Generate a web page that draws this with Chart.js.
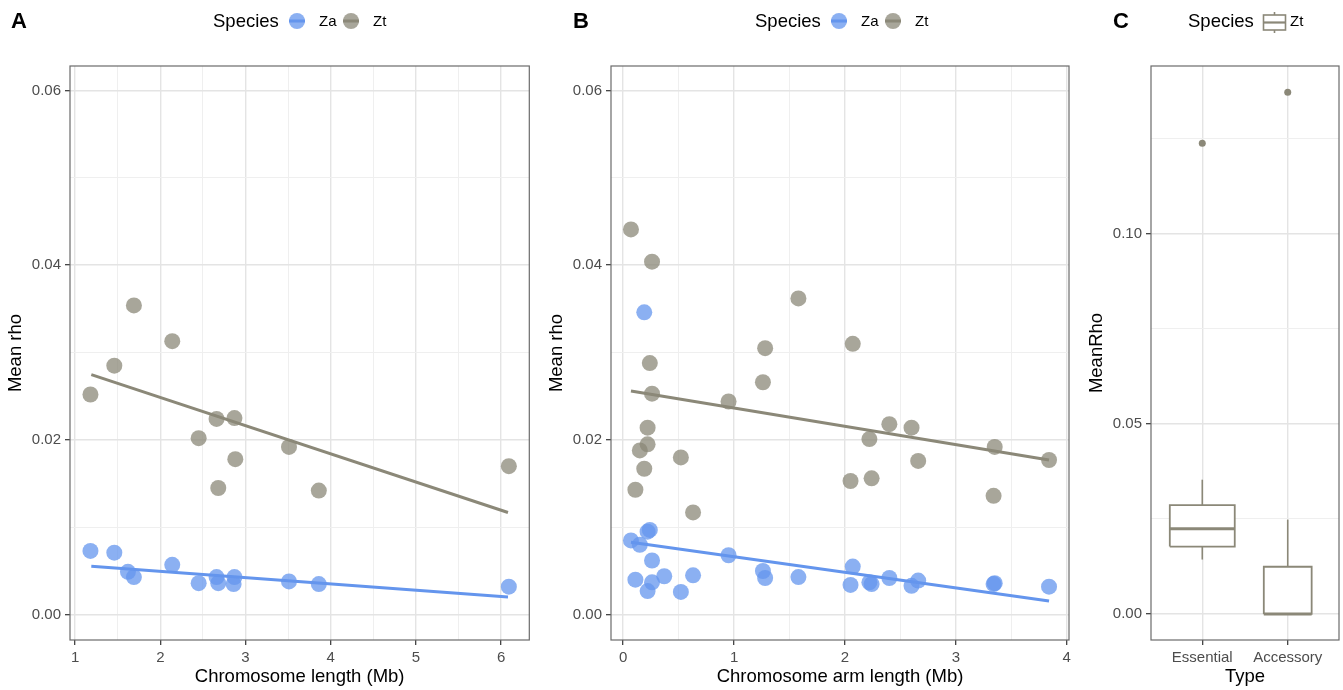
<!DOCTYPE html>
<html>
<head>
<meta charset="utf-8">
<script src="https://cdn.jsdelivr.net/npm/chart.js@4.4.1/dist/chart.umd.min.js"></script>
<style>
body { margin: 0; background: #fff; font-family: "Liberation Sans", Arial, sans-serif; }
#figure { position: relative; width: 1343px; height: 690px; overflow: hidden; }
canvas { position: absolute; top: 0; }
.letter { position: absolute; top: 9px; font-size: 22px; font-weight: bold; line-height: 24px; }
.legend { position: absolute; top: 9px; height: 24px; line-height: 24px; color: #000; }
.legend span, .legend svg { position: absolute; top: 0; }
.legend .head { font-size: 18.5px; }
.legend .item { font-size: 15px; }
</style>
</head>
<body>
<div id="figure">
  <canvas id="chartA" width="545" height="690" style="left:0px"></canvas>
  <canvas id="chartB" width="540" height="690" style="left:541px"></canvas>
  <canvas id="chartC" width="262" height="690" style="left:1081px"></canvas>

  <div class="letter" style="left:11px">A</div>
  <div class="letter" style="left:573px">B</div>
  <div class="letter" style="left:1113px">C</div>

  <div class="legend" style="left:213px">
    <span class="head" style="left:0">Species</span>
    <svg style="left:75px" width="18" height="24"><circle cx="9" cy="12" r="8" fill="#6495ED" fill-opacity="0.75"/><line x1="1" y1="12" x2="17" y2="12" stroke="#6495ED" stroke-width="3"/></svg>
    <span class="item" style="left:106px">Za</span>
    <svg style="left:129px" width="18" height="24"><circle cx="9" cy="12" r="8" fill="#8B8878" fill-opacity="0.75"/><line x1="1" y1="12" x2="17" y2="12" stroke="#8B8878" stroke-width="3"/></svg>
    <span class="item" style="left:160px">Zt</span>
  </div>
  <div class="legend" style="left:755px">
    <span class="head" style="left:0">Species</span>
    <svg style="left:75px" width="18" height="24"><circle cx="9" cy="12" r="8" fill="#6495ED" fill-opacity="0.75"/><line x1="1" y1="12" x2="17" y2="12" stroke="#6495ED" stroke-width="3"/></svg>
    <span class="item" style="left:106px">Za</span>
    <svg style="left:129px" width="18" height="24"><circle cx="9" cy="12" r="8" fill="#8B8878" fill-opacity="0.75"/><line x1="1" y1="12" x2="17" y2="12" stroke="#8B8878" stroke-width="3"/></svg>
    <span class="item" style="left:160px">Zt</span>
  </div>
  <div class="legend" style="left:1188px">
    <span class="head" style="left:0">Species</span>
    <svg style="left:74px" width="25" height="24" fill="none" stroke="#8B8878" stroke-width="1.6">
      <line x1="12.5" y1="3" x2="12.5" y2="6"/><line x1="12.5" y1="21" x2="12.5" y2="24"/>
      <rect x="1.5" y="6" width="22" height="15" fill="#fff"/><line x1="1.5" y1="13.5" x2="23.5" y2="13.5" stroke-width="2.2"/>
    </svg>
    <span class="item" style="left:102px">Zt</span>
  </div>
</div>

<script>
const ZA_COLOR = '#6495ED';
const ZT_COLOR = '#8B8878';
const FONT = '"Liberation Sans", Arial, sans-serif';

// A: mean rho per chromosome
const chromLenZa = [1.18, 1.46, 1.62, 1.69, 2.14, 2.45, 2.66, 2.68, 2.87, 2.86, 3.51, 3.86, 6.09];
const rhoChromZa = [0.0073, 0.0071, 0.0049, 0.0043, 0.0057, 0.0036, 0.0043, 0.0036, 0.0043, 0.0035, 0.0038, 0.0035, 0.0032];
const chromLenZt = [1.18, 1.46, 1.69, 2.14, 2.45, 2.66, 2.68, 2.87, 2.88, 3.51, 3.86, 6.09];
const rhoChromZt = [0.0252, 0.0285, 0.0354, 0.0313, 0.0202, 0.0224, 0.0145, 0.0225, 0.0178, 0.0192, 0.0142, 0.0170];
const fitLenA = [1.19, 6.08];
const fitZaA = [0.00555, 0.00202];
const fitZtA = [0.02748, 0.01169];

// B: mean rho per chromosome arm
const armLenZa = [0.19, 0.24, 0.22, 0.07, 0.15, 0.26, 0.11, 0.26, 0.22, 0.37, 0.52, 0.63, 0.95, 1.26, 1.28, 1.58, 2.07, 2.05, 2.22, 2.24, 2.40, 2.60, 2.66, 3.35, 3.34, 3.84];
const rhoArmZa = [0.0346, 0.0097, 0.0095, 0.0085, 0.0080, 0.0062, 0.0040, 0.0037, 0.0027, 0.0044, 0.0026, 0.0045, 0.0068, 0.0050, 0.0042, 0.0043, 0.0055, 0.0034, 0.0037, 0.0035, 0.0042, 0.0033, 0.0039, 0.0036, 0.0035, 0.0032];
const armLenZt = [0.07, 0.26, 0.24, 0.26, 0.22, 0.22, 0.15, 0.19, 0.11, 0.52, 0.63, 0.95, 1.26, 1.28, 1.58, 2.07, 2.05, 2.22, 2.24, 2.40, 2.60, 2.66, 3.35, 3.34, 3.84];
const rhoArmZt = [0.0441, 0.0404, 0.0288, 0.0253, 0.0214, 0.0195, 0.0188, 0.0167, 0.0143, 0.0180, 0.0117, 0.0244, 0.0266, 0.0305, 0.0362, 0.0310, 0.0153, 0.0201, 0.0156, 0.0218, 0.0214, 0.0176, 0.0192, 0.0136, 0.0177];
const fitArmB = [0.07, 3.84];
const fitZaB = [0.0083, 0.00157];
const fitZtB = [0.0256, 0.0177];

// C: Zt essential vs accessory chromosomes
const boxTypes = ['Essential', 'Accessory'];
const whiskerLow = [0.0143, 0.0];
const boxQ1 = [0.0177, 0.0];
const boxMedian = [0.0224, 0.0];
const boxQ3 = [0.0286, 0.0124];
const whiskerHigh = [0.0353, 0.0248];
const outlierRho = [0.1238, 0.1372];

// tick values
const ticksLenA = [1, 2, 3, 4, 5, 6];
const minorLenA = [1.5, 2.5, 3.5, 4.5, 5.5];
const ticksArmB = [0, 1, 2, 3, 4];
const minorArmB = [0.5, 1.5, 2.5, 3.5];
const ticksRho = [0, 0.02, 0.04, 0.06];
const minorRho = [0.01, 0.03, 0.05];
const ticksRhoC = [0, 0.05, 0.10];
const minorRhoC = [0.025, 0.075, 0.125];
const ticksTypeC = [1, 2];


function toPoints(xs, ys) {
    return xs.map((x, i) => ({ x: x, y: ys[i] }));
}

function isMajor(v, major) {
    return major.some(m => Math.abs(m - v) < 1e-9);
}

function gridAxis(min, max, major, minor, title, format, isX) {
    return {
        type: 'linear',
        min: min,
        max: max,
        afterBuildTicks: axis => {
            axis.ticks = major.concat(minor).sort((a, b) => a - b).map(v => ({ value: v }));
        },
        afterFit: axis => {
            if (isX) axis.height = 50; else axis.width = 70;
        },
        ticks: {
            autoSkip: false,
            maxRotation: 0,
            padding: 4,
            color: '#4d4d4d',
            font: { family: FONT, size: 15 },
            callback: v => isMajor(v, major) ? format(v) : ''
        },
        grid: {
            color: c => (c.tick && isMajor(c.tick.value, major)) ? '#e4e4e4' : '#efefef',
            lineWidth: c => (c.tick && isMajor(c.tick.value, major)) ? 1.4 : 1,
            tickLength: 5,
            tickWidth: 1.2,
            tickColor: c => (c.tick && isMajor(c.tick.value, major)) ? '#333' : 'rgba(0,0,0,0)'
        },
        border: { display: false },
        title: {
            display: true,
            text: title,
            color: '#000',
            font: { family: FONT, size: 18.5 },
            padding: isX ? { top: 2, bottom: 2 } : { top: 5, bottom: 2 }
        }
    };
}

const panelBorder = {
    id: 'panelBorder',
    afterDatasetsDraw(chart) {
        const { ctx, chartArea: a } = chart;
        ctx.save();
        ctx.strokeStyle = '#6b6b6b';
        ctx.lineWidth = 1.2;
        ctx.strokeRect(a.left, a.top, a.right - a.left, a.bottom - a.top);
        ctx.restore();
    }
};

function pointSet(data, color, alpha, radius, order) {
    return {
        data: data,
        backgroundColor: Chart.helpers.color(color).alpha(alpha).rgbString(),
        borderWidth: 0,
        pointRadius: radius,
        order: order
    };
}

function lineSet(data, color, width, order) {
    return {
        data: data,
        showLine: true,
        borderColor: color,
        borderWidth: width,
        pointRadius: 0,
        tension: 0,
        fill: false,
        order: order
    };
}

function baseOptions(scales, rightPad) {
    return {
        responsive: false,
        animation: false,
        events: [],
        layout: { padding: { top: 66, right: rightPad, left: 0, bottom: 0 } },
        plugins: { legend: { display: false }, tooltip: { enabled: false } },
        scales: scales
    };
}

const fmt2 = v => v.toFixed(2);
const fmtInt = v => String(v);


new Chart(document.getElementById('chartA'), {
    type: 'scatter',
    data: {
        datasets: [
            lineSet(toPoints(fitLenA, fitZaA), ZA_COLOR, 3, 0),
            lineSet(toPoints(fitLenA, fitZtA), ZT_COLOR, 3, 0),
            pointSet(toPoints(chromLenZa, rhoChromZa), ZA_COLOR, 0.75, 8, 1),
            pointSet(toPoints(chromLenZt, rhoChromZt), ZT_COLOR, 0.75, 8, 1)
        ]
    },
    options: baseOptions({
        x: gridAxis(0.94, 6.33, ticksLenA, minorLenA, 'Chromosome length (Mb)', fmtInt, true),
        y: gridAxis(-0.0029, 0.0628, ticksRho, minorRho, 'Mean rho', fmt2, false)
    }, 15.7),
    plugins: [panelBorder]
});


new Chart(document.getElementById('chartB'), {
    type: 'scatter',
    data: {
        datasets: [
            lineSet(toPoints(fitArmB, fitZaB), ZA_COLOR, 3, 0),
            lineSet(toPoints(fitArmB, fitZtB), ZT_COLOR, 3, 0),
            pointSet(toPoints(armLenZa, rhoArmZa), ZA_COLOR, 0.75, 8, 1),
            pointSet(toPoints(armLenZt, rhoArmZt), ZT_COLOR, 0.75, 8, 1)
        ]
    },
    options: baseOptions({
        x: gridAxis(-0.11, 4.02, ticksArmB, minorArmB, 'Chromosome arm length (Mb)', fmtInt, true),
        y: gridAxis(-0.0029, 0.0628, ticksRho, minorRho, 'Mean rho', fmt2, false)
    }, 12),
    plugins: [panelBorder]
});


// boxes: whiskers, white box, median line, outliers
const boxHalf = [0.38, 0.28];
const boxSets = [];
boxTypes.forEach((type, i) => {
    const c = ticksTypeC[i];
    const h = boxHalf[i];
    boxSets.push(lineSet([{ x: c, y: boxQ3[i] }, { x: c, y: whiskerHigh[i] }], ZT_COLOR, 1.6, 3));
    boxSets.push(lineSet([{ x: c, y: whiskerLow[i] }, { x: c, y: boxQ1[i] }], ZT_COLOR, 1.6, 3));
    const box = lineSet([
        { x: c - h, y: boxQ1[i] }, { x: c + h, y: boxQ1[i] },
        { x: c + h, y: boxQ3[i] }, { x: c - h, y: boxQ3[i] },
        { x: c - h, y: boxQ1[i] }
    ], ZT_COLOR, 1.8, 2);
    box.fill = 'shape';
    box.backgroundColor = '#fff';
    boxSets.push(box);
    boxSets.push(lineSet([{ x: c - h, y: boxMedian[i] }, { x: c + h, y: boxMedian[i] }], ZT_COLOR, 3, 1));
});
boxSets.push(pointSet(toPoints(ticksTypeC, outlierRho), ZT_COLOR, 1, 3.5, 0));

new Chart(document.getElementById('chartC'), {
    type: 'scatter',
    data: { datasets: boxSets },
    options: baseOptions({
        x: gridAxis(0.4, 2.6, ticksTypeC, [], 'Type', v => boxTypes[Math.round(v) - 1], true),
        y: gridAxis(-0.00686, 0.1441, ticksRhoC, minorRhoC, 'MeanRho', fmt2, false)
    }, 2),
    plugins: [panelBorder]
});
</script>
</body>
</html>
